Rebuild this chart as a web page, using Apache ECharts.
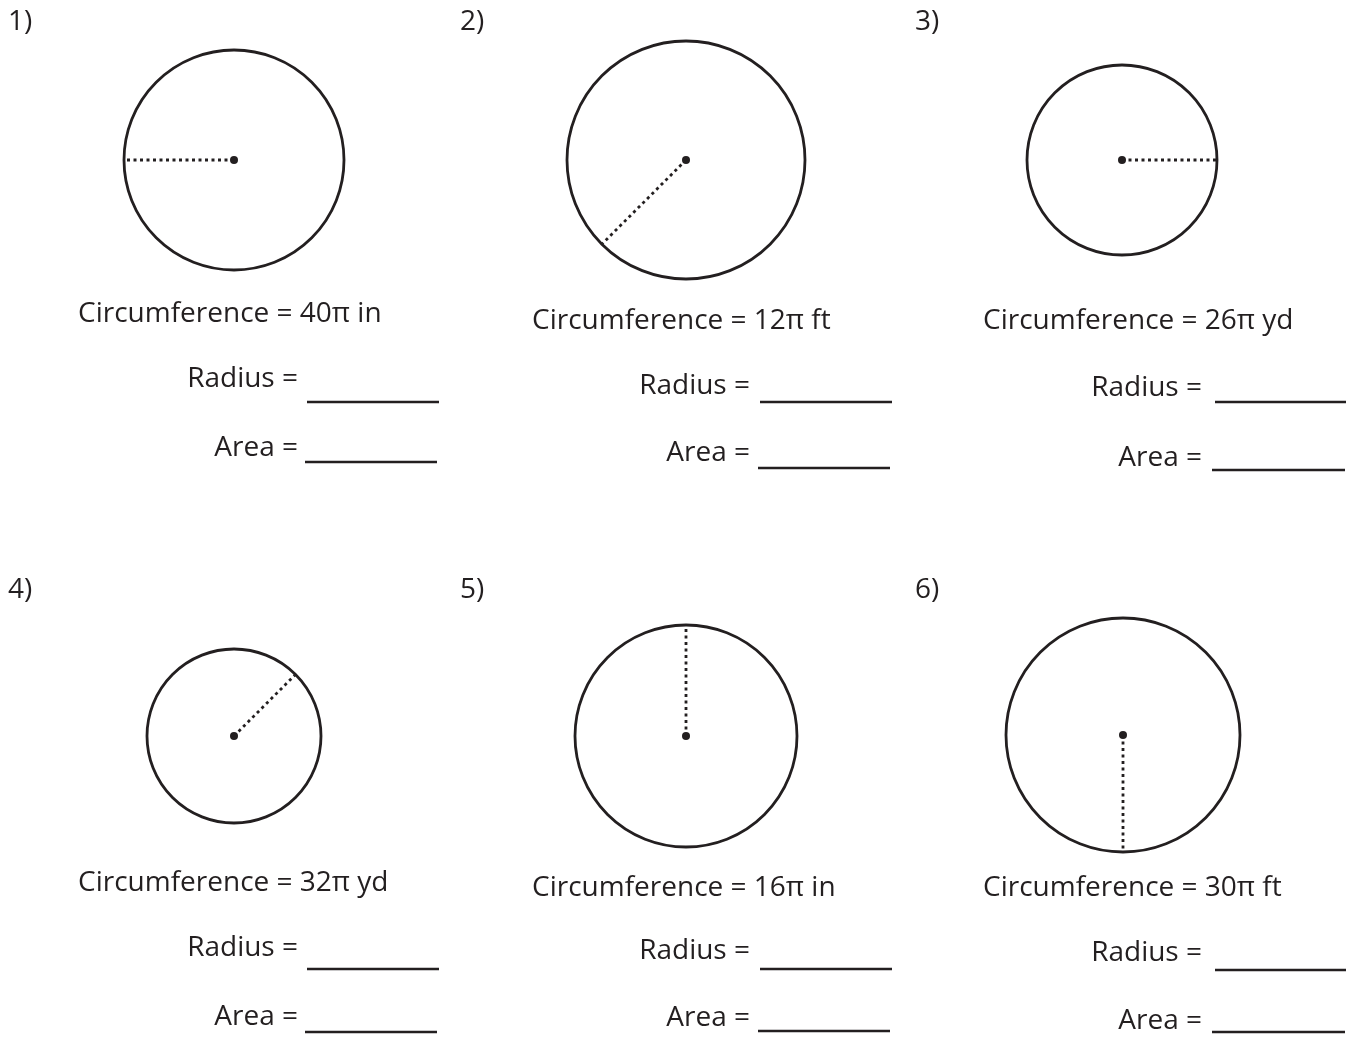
<!DOCTYPE html>
<html>
<head>
<meta charset="utf-8">
<script src="https://cdn.jsdelivr.net/npm/echarts@6/dist/echarts.min.js"></script>
<style>
html,body{margin:0;padding:0;background:#fff;}
#chart{width:1361px;height:1037px;}
</style>
</head>
<body>
<div id="chart"></div>
<script>
// ---- data ----
const problemLabels = ['1)', '2)', '3)', '4)', '5)', '6)'];
const circumferenceCoef = [40, 12, 26, 32, 16, 30];
const units = ['in', 'ft', 'yd', 'yd', 'in', 'ft'];
const radiusDirectionDeg = [180, 225, 0, 45, 90, 270]; // direction of dotted radius (math angle, y up)
const radiusLabel = 'Radius =';
const areaLabel = 'Area =';

// ---- layout (positions / sizes, in page pixels) ----
const labelPos = [[8, 22], [460, 22], [915, 22], [8, 590], [460, 590], [915, 590]];
const circleCenter = [[234, 160], [686, 160], [1122, 160], [234, 736], [686, 736], [1123, 735]];
const circleRadius = [110, 119, 95, 87, 111, 117];
const circTextPos = [[78, 314], [532, 321], [983, 321], [78, 883], [532, 888], [983, 888]];
const radiusTextPos = [[298, 379], [750, 386], [1202, 388], [298, 948], [750, 951], [1202, 953]];
const areaTextPos = [[298, 448], [750, 453], [1202, 458], [298, 1017], [750, 1018], [1202, 1021]];
const radiusLine = [[307, 439, 402], [760, 892, 402], [1215, 1346, 402], [307, 439, 969], [760, 892, 969], [1215, 1346, 970]];
const areaLine = [[305, 437, 462], [758, 890, 468], [1212, 1345, 470], [305, 437, 1032], [758, 890, 1031], [1212, 1345, 1032]];

const FONT = '"Open Sans", "Noto Sans", sans-serif';
const FS = 28;
const TXT = '#231f20';

const seriesData = problemLabels.map((p, i) => [circleCenter[i][0], circleCenter[i][1], circleRadius[i], i]);

function renderItem(params, api) {
  const i = api.value(3);
  const c = api.coord([api.value(0), api.value(1)]);
  const r = api.size([api.value(2), 0])[0];
  const a = radiusDirectionDeg[i] * Math.PI / 180;
  const ex = c[0] + (r - 1) * Math.cos(a);
  const ey = c[1] - (r - 1) * Math.sin(a);
  const lp = api.coord(labelPos[i]);
  const cp = api.coord(circTextPos[i]);
  const rp = api.coord(radiusTextPos[i]);
  const ap = api.coord(areaTextPos[i]);
  const rl1 = api.coord([radiusLine[i][0], radiusLine[i][2]]);
  const rl2 = api.coord([radiusLine[i][1], radiusLine[i][2]]);
  const al1 = api.coord([areaLine[i][0], areaLine[i][2]]);
  const al2 = api.coord([areaLine[i][1], areaLine[i][2]]);
  const txt = (x, y, s, align) => ({
    type: 'text',
    style: { x: x, y: y, text: s, fill: TXT, font: FS + 'px ' + FONT, align: align, verticalAlign: 'middle' }
  });
  return {
    type: 'group',
    children: [
      { type: 'circle', shape: { cx: c[0], cy: c[1], r: r }, style: { fill: 'none', stroke: '#231f20', lineWidth: 2.8 } },
      { type: 'line', shape: { x1: c[0], y1: c[1], x2: ex, y2: ey }, style: { stroke: '#231f20', lineWidth: 2.8, lineDash: [3, 3.5] } },
      { type: 'circle', shape: { cx: c[0], cy: c[1], r: 4 }, style: { fill: '#231f20' } },
      txt(lp[0], lp[1], problemLabels[i], 'left'),
      txt(cp[0], cp[1], 'Circumference = ' + circumferenceCoef[i] + 'π ' + units[i], 'left'),
      txt(rp[0], rp[1], radiusLabel, 'right'),
      txt(ap[0], ap[1], areaLabel, 'right'),
      { type: 'line', shape: { x1: rl1[0], y1: rl1[1], x2: rl2[0], y2: rl2[1] }, style: { stroke: '#231f20', lineWidth: 2.6 } },
      { type: 'line', shape: { x1: al1[0], y1: al1[1], x2: al2[0], y2: al2[1] }, style: { stroke: '#231f20', lineWidth: 2.6 } }
    ]
  };
}

const chart = echarts.init(document.getElementById('chart'), null, { renderer: 'canvas' });
chart.setOption({
  backgroundColor: '#ffffff',
  animation: false,
  grid: { left: 0, right: 0, top: 0, bottom: 0, containLabel: false },
  xAxis: { type: 'value', min: 0, max: 1361, show: false },
  yAxis: { type: 'value', min: 0, max: 1037, inverse: true, show: false },
  series: [{
    type: 'custom',
    renderItem: renderItem,
    data: seriesData,
    clip: false,
    silent: true
  }]
});
</script>
</body>
</html>
